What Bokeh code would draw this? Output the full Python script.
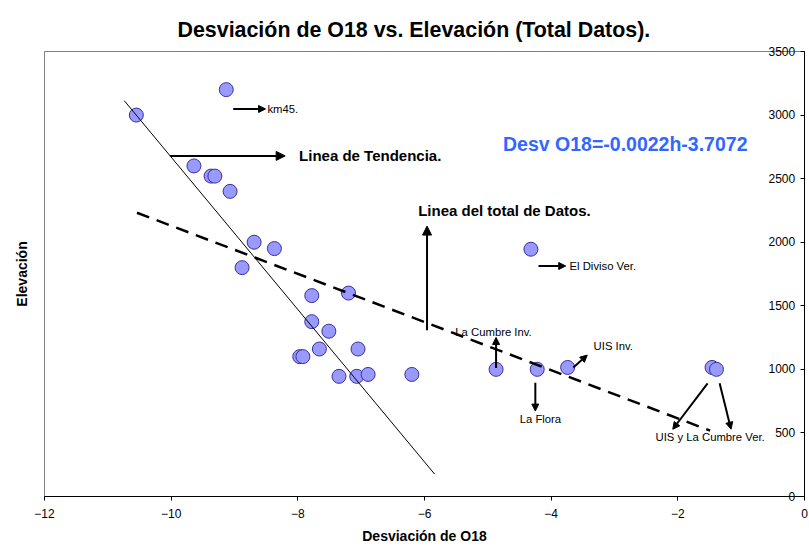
from bokeh.plotting import figure
from bokeh.models import (Range1d, LinearAxis, FixedTicker, Arrow, NormalHead, Label,
                          CustomJSTickFormatter)
from bokeh.embed import file_html
from bokeh.resources import INLINE

FONT = "Liberation Sans"

# ---- data ----
dev_o18 = [-10.55, -9.13, -9.64, -9.37, -9.31, -9.07, -8.69, -8.37, -8.88,
           -7.78, -7.20, -7.78, -7.51, -7.66, -7.05, -7.97, -7.92, -7.35,
           -7.07, -6.89, -6.20, -4.87, -4.22, -3.74, -1.46, -1.39, -4.32]
elevation = [3000, 3200, 2600, 2520, 2520, 2400, 2000, 1950, 1800,
             1580, 1600, 1375, 1300, 1160, 1160, 1100, 1100, 945,
             945, 960, 960, 1000, 1000, 1015, 1015, 1000, 1945]

trend_x = [-10.74, -5.84]
trend_y = [3113, 176]
total_x = [-10.54, -1.49]
total_y = [2232, 518]

x_ticks = [-12, -10, -8, -6, -4, -2, 0]
y_ticks = [0, 500, 1000, 1500, 2000, 2500, 3000, 3500]

title = "Desviación de O18 vs. Elevación (Total Datos)."
x_title = "Desviación de O18"
y_title = "Elevación"
equation = "Desv O18=-0.0022h-3.7072"

p = figure(width=809, height=546, output_backend="svg", toolbar_location=None,
           x_range=Range1d(-12, 0), y_range=Range1d(0, 3500),
           x_axis_location=None, y_axis_location=None,
           min_border_left=44, min_border_right=5, min_border_top=51, min_border_bottom=49)
p.grid.visible = False
p.outline_line_color = "#808080"
p.outline_line_width = 1
p.background_fill_color = "white"
p.border_fill_color = "white"

p.title.text = title
p.title.align = "left"
p.title.offset = 133
p.title.vertical_align = "top"
p.title.standoff = 16
p.title.text_font = FONT
p.title.text_font_size = "21.4px"
p.title.text_font_style = "bold"
p.title.text_color = "black"

# bottom axis
xax = LinearAxis(ticker=FixedTicker(ticks=x_ticks), axis_label=x_title)
xax.axis_line_color = "black"
xax.major_tick_line_color = "black"
xax.major_tick_out = 4
xax.major_tick_in = 0
xax.minor_tick_line_color = None
xax.major_label_text_font = FONT
xax.major_label_text_font_size = "12px"
xax.major_label_text_color = "black"
xax.major_label_standoff = 8
xax.axis_label_text_font = FONT
xax.axis_label_text_font_size = "14px"
xax.axis_label_text_font_style = "bold"
xax.axis_label_text_color = "black"
xax.axis_label_standoff = 7
p.add_layout(xax, "below")

# left: title only
lax = LinearAxis(ticker=FixedTicker(ticks=[]), axis_label=y_title)
lax.axis_line_color = None
lax.major_tick_line_color = None
lax.minor_tick_line_color = None
lax.axis_label_text_font = FONT
lax.axis_label_text_font_size = "14px"
lax.axis_label_text_font_style = "bold"
lax.axis_label_text_color = "black"
lax.axis_label_standoff = 15
p.add_layout(lax, "left")

# value axis on the right edge (x = 0), labels drawn on its inner side
rax = LinearAxis(ticker=FixedTicker(ticks=y_ticks),
                 formatter=CustomJSTickFormatter(code="return String(tick).padStart(4, '\\u2007')"))
rax.axis_line_color = "black"
rax.major_tick_line_color = "black"
rax.major_tick_out = 0
rax.major_tick_in = 4
rax.minor_tick_line_color = None
rax.major_label_text_font = FONT
rax.major_label_text_font_size = "12px"
rax.major_label_text_color = "black"
rax.major_label_standoff = -36
p.add_layout(rax, "right")

# points
p.scatter(dev_o18, elevation, size=14, fill_color="#9999FF", line_color="#333399", line_width=1)

# lines
p.line(trend_x, trend_y, line_color="black", line_width=1)
p.line(total_x, total_y, line_color="black", line_width=2.5, line_dash="13 8")

# arrows (annotations)
def arrow(x0, y0, x1, y1, size=7, width=2):
    p.add_layout(Arrow(end=NormalHead(size=size, fill_color="black", line_color="black"),
                       x_start=x0, y_start=y0, x_end=x1, y_end=y1,
                       line_color="black", line_width=width))

def label(x, y, text, size="11.3px", bold=False, align="left", color="black"):
    p.add_layout(Label(x=x, y=y, text=text, text_font=FONT, text_font_size=size,
                       text_font_style="bold" if bold else "normal",
                       text_align=align, text_baseline="middle", text_color=color))

arrow(-9.02, 3048, -8.51, 3048)
label(-8.48, 3048, "km45.")

arrow(-10.02, 2679, -8.20, 2679, size=9)
label(-7.98, 2679, "Linea de Tendencia.", size="15px", bold=True)

arrow(-5.96, 1308, -5.96, 2127, size=9)
label(-6.10, 2250, "Linea del total de Datos.", size="15px", bold=True)

label(-4.76, 2776, equation, size="19.5px", bold=True, color="#3366FF")

arrow(-4.20, 1813, -3.77, 1813)
label(-3.71, 1813, "El Diviso Ver.")

arrow(-4.87, 1010, -4.87, 1251)
label(-4.91, 1292, "La Cumbre Inv.", align="center")

arrow(-4.25, 895, -4.25, 672)
label(-4.17, 607, "La Flora", align="center")

arrow(-3.65, 1015, -3.43, 1112)
label(-3.33, 1183, "UIS Inv.")

arrow(-1.53, 890, -2.08, 529)
arrow(-1.34, 890, -1.16, 529)
label(-1.49, 466, "UIS y La Cumbre Ver.", align="center")

open("out.html", "w").write(file_html(p, INLINE))
